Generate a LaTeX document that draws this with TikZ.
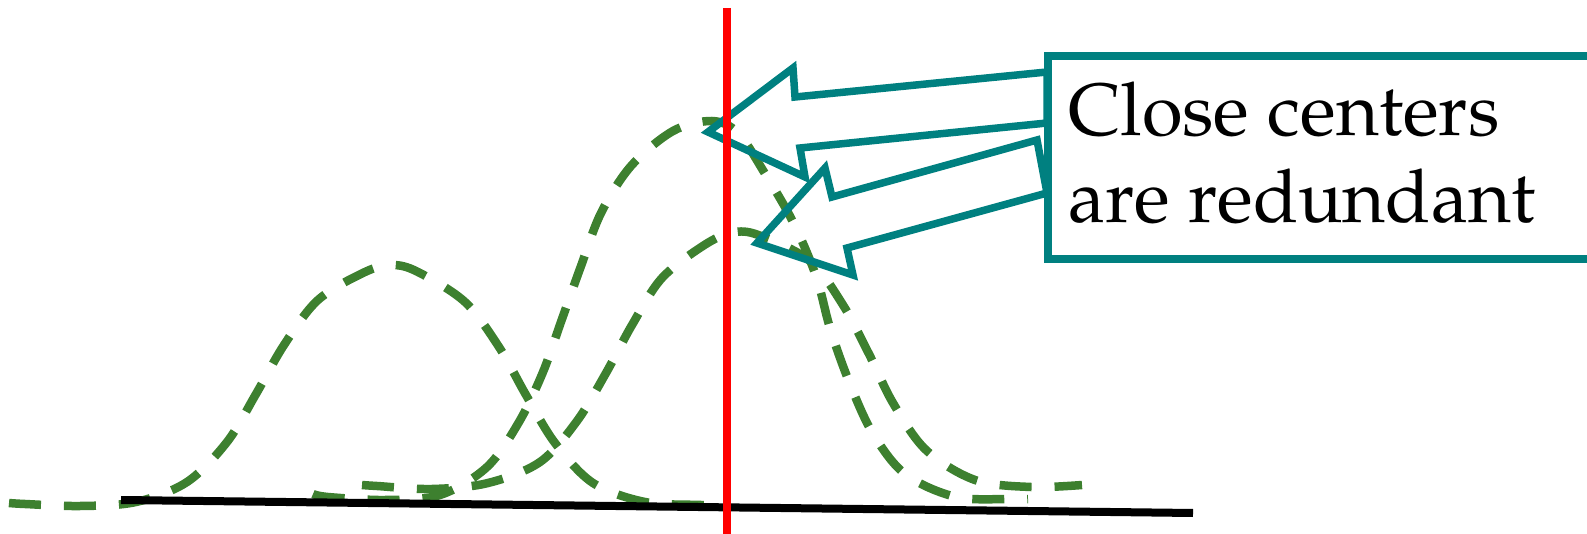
\documentclass[tikz,border=0pt]{standalone}
\usepackage{fontspec}
\setmainfont{TeX Gyre Pagella}
\definecolor{tealc}{RGB}{0,128,128}
\definecolor{gcurve}{RGB}{61,128,47}
\begin{document}
\begin{tikzpicture}[x=1pt,y=-1pt,
  curve/.style={draw=gcurve, line width=8.5pt, dash pattern=on 32pt off 23pt},
  callout/.style={draw=tealc, line width=7.5pt, line join=miter},
  axisline/.style={draw=black, line width=8pt},
  cutline/.style={draw=red, line width=8.5pt},
  labelbox/.style={draw=tealc, fill=white, line width=8pt},
  labeltext/.style={inner sep=0pt, align=left, font=\fontsize{74}{87}\selectfont}]
\useasboundingbox (0,0) rectangle (1587,534);
% Gaussian curves
\draw[curve] plot[smooth, tension=0.55] coordinates {(9,503) (25,504) (80,506) (136,502) (187,482) (227,442) (256,394) (284,345) (318,300) (365,272) (392,265) (418,272) (465,302) (499,347) (526,395) (555,443) (593,483) (645,502) (701,505) (717,506)};
\draw[curve] plot[smooth, tension=0.55] coordinates {(313,494) (328,497) (385,500) (440,495) (487,467) (519,422) (543,372) (562,319) (581,266) (601,213) (631,166) (673,131) (712,121) (738,133) (764,172) (793,222) (816,276) (830,328) (848,379) (872,432) (905,474) (956,497) (1011,499) (1028,499)};
\draw[curve] plot[smooth, tension=0.55] coordinates {(362,485) (377,486) (432,489) (488,483) (540,462) (577,421) (606,373) (632,325) (662,278) (706,244) (735,232) (761,236) (810,261) (843,305) (869,354) (893,403) (926,450) (975,480) (1031,487) (1082,485)};
% axis
\coordinate (axL) at (121,500);
\coordinate (axR) at (1193,513);
\draw[axisline] (axL) -- (axR);
% block arrows
\draw[callout] (708,132) -- (793,68) -- (795,97) -- (1047,72) -- (1047,123) -- (800,148) -- (805,177) -- cycle;
\draw[callout] (757,243) -- (825,168) -- (832,197) -- (1037,140) -- (1047,193) -- (847,248) -- (853,275) -- cycle;
% label box
\draw[labelbox] (1048,56) rectangle (1610,259);
\node[labeltext, anchor=base west] (lbl) at (1068,222.6) {Close centers\\are redundant};
% red line
\coordinate (rt) at (727,8);
\coordinate (rb) at (727,545);
\draw[cutline] (rt) -- (rb);
\end{tikzpicture}
\end{document}
